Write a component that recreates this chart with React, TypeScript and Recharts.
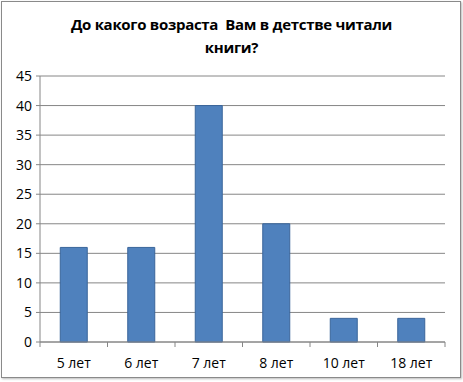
import React from "react";
import { BarChart, Bar, XAxis, YAxis, CartesianGrid } from "recharts";

const categories = ["5 лет", "6 лет", "7 лет", "8 лет", "10 лет", "18 лет"];
const values = [16, 16, 40, 20, 4, 4];
const yTicks = [0, 5, 10, 15, 20, 25, 30, 35, 40, 45];
const titleLines = ["До какого возраста  Вам в детстве читали", "книги?"];

const data = categories.map((c, i) => ({ name: c, value: values[i] }));

const FONT = "'Open Sans', 'Noto Sans', sans-serif";

const XTick = (props: any) => {
  const { x, y, payload, index, visibleTicksCount } = props;
  const half = payload && payload.offset ? payload.offset : 33.75;
  const count = visibleTicksCount ?? categories.length;
  return (
    <g>
      <line x1={x - half} x2={x - half} y1={y - 8} y2={y - 3} stroke="#868686" />
      {index === count - 1 && (
        <line x1={x + half} x2={x + half} y1={y - 8} y2={y - 3} stroke="#868686" />
      )}
      <text x={x} y={y + 18} textAnchor="middle" fill="#000" fontSize={14} fontFamily={FONT}>
        {payload.value}
      </text>
    </g>
  );
};

export default function App() {
  return (
    <div
      style={{
        position: "absolute",
        left: 0,
        top: 0,
        width: 463,
        height: 382,
        background: "#fff",
      }}
    >
      <div
        style={{
          position: "absolute",
          left: 1,
          top: 1,
          width: 460,
          height: 377,
          border: "1px solid #8a8a8a",
          boxSizing: "border-box",
          boxShadow: "1px 1px 2px #bbb",
        }}
      />
      <div
        style={{
          position: "absolute",
          left: 0,
          top: 13,
          width: 463,
          textAlign: "center",
          fontFamily: FONT,
          fontWeight: "bold",
          fontSize: 15,
          letterSpacing: -0.3,
          lineHeight: "23px",
          color: "#000",
          whiteSpace: "pre",
        }}
      >
        {titleLines.map((l, i) => (
          <div key={i}>{l}</div>
        ))}
      </div>
      <div style={{ position: "absolute", left: 0, top: 0 }}>
        <BarChart
          width={463}
          height={382}
          data={data}
          margin={{ top: 76, right: 18, bottom: 0, left: 0 }}
          barCategoryGap="30%"
        >
          <CartesianGrid vertical={false} stroke="#868686" strokeWidth={1} />
          <XAxis
            dataKey="name"
            axisLine={{ stroke: "#868686" }}
            tickLine={false}
            tick={<XTick />}
            interval={0}
            height={40}
          />
          <YAxis
            width={40}
            domain={[0, 45]}
            ticks={yTicks}
            interval={0}
            axisLine={{ stroke: "#868686" }}
            tickLine={{ stroke: "#868686" }}
            tickSize={4}
            tickMargin={4}
            tick={{ fill: "#000", fontSize: 14, fontFamily: FONT }}
          />
          <Bar
            dataKey="value"
            fill="#4F81BD"
            stroke="#3A659A"
            strokeWidth={1}
            isAnimationActive={false}
          />
        </BarChart>
      </div>
    </div>
  );
}
